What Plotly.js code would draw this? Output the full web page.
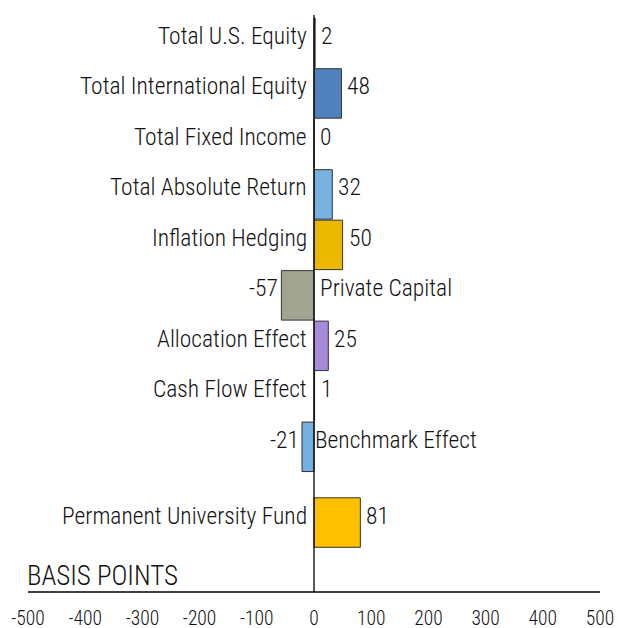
<!DOCTYPE html>
<html>
<head>
<meta charset="utf-8">
<script src="https://cdn.plot.ly/plotly-3.0.1.min.js"></script>
<style>
  html, body { margin: 0; padding: 0; background: #fff; }
  #chart { width: 618px; height: 628px; }
</style>
</head>
<body>
<div id="chart"></div>
<script>
// ---- data ----
const categories = [
  "Total U.S. Equity",
  "Total International Equity",
  "Total Fixed Income",
  "Total Absolute Return",
  "Inflation Hedging",
  "Private Capital",
  "Allocation Effect",
  "Cash Flow Effect",
  "Benchmark Effect",
  "Permanent University Fund"
];
const values = [2, 48, 0, 32, 50, -57, 25, 1, -21, 81];
const barColors = ["#4f81bd", "#4f81bd", "#7ab3e0", "#77b2e0", "#ebb800",
                   "#a2a492", "#a78ad8", "#7ab3e0", "#72b0e0", "#ffc000"];
const xTickVals = [-500, -400, -300, -200, -100, 0, 100, 200, 300, 400, 500];
const axisLabel = "BASIS POINTS";

// ---- layout helpers ----
const FONT = "'Liberation Sans Narrow', 'Arial Narrow', 'Roboto Condensed', sans-serif";
const TXT = "#111";
const LBL = 23.5;
const lastIdx = categories.length - 1;
const positions = categories.map((c, i) => i + (i === lastIdx ? 0.5 : 0));

const annotations = [];
categories.forEach((cat, i) => {
  const v = values[i];
  const y = positions[i];
  const f = {family: FONT, size: LBL, color: TXT, weight: 300};
  if (v >= 0) {
    annotations.push({x: 0, y: y, xref: 'x', yref: 'y', text: cat, showarrow: false,
      xanchor: 'right', yanchor: 'middle', xshift: -5, yshift: 7, font: f});
    annotations.push({x: v, y: y, xref: 'x', yref: 'y', text: String(v), showarrow: false,
      xanchor: 'left', yanchor: 'middle', xshift: 4, yshift: 7, font: f});
  } else {
    annotations.push({x: v, y: y, xref: 'x', yref: 'y', text: String(v), showarrow: false,
      xanchor: 'right', yanchor: 'middle', xshift: -1, yshift: 7, font: f});
    annotations.push({x: 0, y: y, xref: 'x', yref: 'y', text: cat, showarrow: false,
      xanchor: 'left', yanchor: 'middle', xshift: (v < -40 ? 4 : -1), yshift: 7, font: f});
  }
});
annotations.push({x: 0.0, y: 0.0, xref: 'paper', yref: 'paper', text: axisLabel,
  showarrow: false, xanchor: 'left', yanchor: 'bottom', xshift: -3, yshift: -2,
  font: {family: FONT, size: 27, color: TXT, weight: 300}});

const trace = {
  type: 'bar',
  orientation: 'h',
  x: values,
  y: positions,
  width: 0.98,
  marker: {color: barColors, line: {color: '#333', width: 1}},
  hoverinfo: 'none'
};

const layout = {
  width: 618, height: 628,
  margin: {l: 27.5, r: 17.5, t: 15, b: 36},
  paper_bgcolor: '#fff', plot_bgcolor: '#fff',
  showlegend: false,
  bargap: 0,
  font: {family: FONT, color: TXT},
  xaxis: {
    range: [-500, 500], tickvals: xTickVals, ticktext: xTickVals.map(String),
    showgrid: false, zeroline: false, showline: false, ticks: '',
    tickfont: {family: FONT, size: 19.5, color: TXT, weight: 300},
    ticklabelstandoff: 12, fixedrange: true
  },
  yaxis: {
    range: [10.876, -0.554], showticklabels: false, showgrid: false,
    zeroline: false, showline: false, ticks: '', fixedrange: true
  },
  shapes: [
    {type: 'line', xref: 'x', yref: 'paper', x0: 0, x1: 0, y0: 0, y1: 1,
     line: {color: '#000', width: 1.3}},
    {type: 'line', xref: 'x', yref: 'paper', x0: -512, x1: 500, y0: 0, y1: 0,
     line: {color: '#000', width: 1.3}}
  ],
  annotations: annotations
};

Plotly.newPlot('chart', [trace], layout, {displayModeBar: false, staticPlot: true});
</script>
</body>
</html>
